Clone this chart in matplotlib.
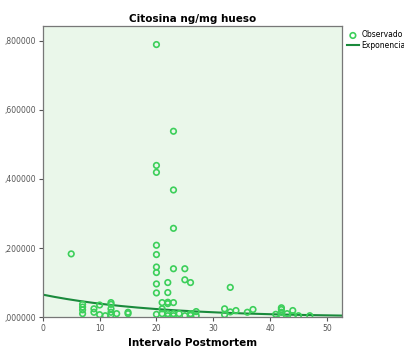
import numpy as np
import matplotlib
matplotlib.use("Agg")
import matplotlib.pyplot as plt

# observed points (Intervalo Postmortem, Citosina ng/mg hueso)
x_obs = [5,
         20, 20, 20, 20, 20, 20, 20, 20, 20, 20,
         23, 23, 23, 23, 23, 23, 23,
         25, 25, 25, 26, 26,
         22, 22, 22, 22, 22, 22,
         21, 21, 21,
         33, 33,
         7, 7, 7, 7, 9, 9, 10, 10, 11,
         12, 12, 12, 12, 12, 13, 15, 15,
         24, 26, 27, 27,
         32, 32, 34, 36, 37,
         41, 42, 42, 42, 42, 43, 44, 44, 45, 47]
y_obs = [0.183,
         0.789, 0.439, 0.419, 0.208, 0.181, 0.145, 0.129, 0.096, 0.070, 0.008,
         0.538, 0.368, 0.257, 0.140, 0.042, 0.010, 0.004,
         0.140, 0.108, 0.004, 0.100, 0.005,
         0.100, 0.071, 0.039, 0.043, 0.010, 0.004,
         0.042, 0.024, 0.010,
         0.086, 0.015,
         0.037, 0.029, 0.021, 0.010, 0.024, 0.014, 0.035, 0.007, 0.004,
         0.042, 0.037, 0.024, 0.014, 0.006, 0.010, 0.014, 0.010,
         0.010, 0.010, 0.016, 0.004,
         0.024, 0.007, 0.019, 0.014, 0.022,
         0.008, 0.027, 0.022, 0.014, 0.005, 0.010, 0.019, 0.004, 0.004, 0.004]

# exponential model fit
exp_a = 0.065
exp_b = -0.0513

yticks = [0.0, 0.2, 0.4, 0.6, 0.8]
ytick_labels = [",000000", ",200000", ",400000", ",600000", ",800000"]
xticks = [0, 10, 20, 30, 40, 50]

fig = plt.figure(figsize=(4.04, 3.5), dpi=100)
ax = fig.add_axes([0.106, 0.094, 0.741, 0.832])
ax.set_facecolor("#eaf7ea")

ax.scatter(x_obs, y_obs, s=16, facecolors="none", edgecolors="#3ccf5a",
           linewidths=1.2, label="Observado", zorder=3)
xs = np.linspace(0, 52.7, 200)
ax.plot(xs, exp_a * np.exp(exp_b * xs), color="#1a8a3c", lw=1.5,
        label="Exponencia", zorder=2)

ax.set_xlim(0, 52.7)
ax.set_ylim(0, 0.843)
ax.set_xticks(xticks)
ax.set_yticks(yticks)
ax.set_yticklabels(ytick_labels)
ax.tick_params(labelsize=5.5, labelcolor="#555555", color="#555555",
               length=3, width=0.8, pad=2)
for sp in ax.spines.values():
    sp.set_color("#777777")
    sp.set_linewidth(0.9)

ax.set_title("Citosina ng/mg hueso", fontsize=7.5, fontweight="bold", pad=3)
ax.set_xlabel("Intervalo Postmortem", fontsize=7.5, fontweight="bold",
              va="bottom")
ax.xaxis.set_label_coords(0.5, -0.105)

ax.legend(loc="upper left", bbox_to_anchor=(1.0, 1.0), frameon=False,
          fontsize=5.5, handlelength=1.6, handletextpad=0.3,
          borderaxespad=0.2, labelspacing=0.2)

fig.savefig("out.png", dpi=100)
